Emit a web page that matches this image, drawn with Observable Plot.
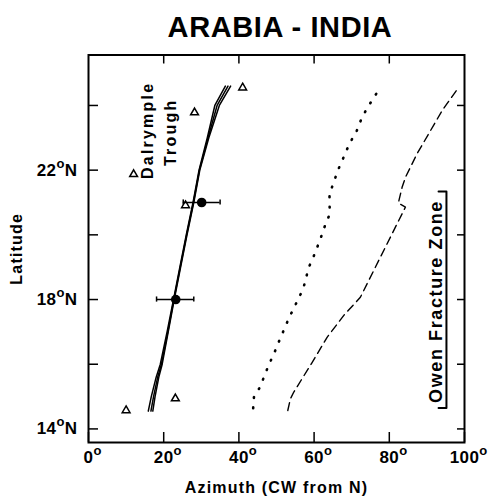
<!DOCTYPE html>
<html><head><meta charset="utf-8">
<script src="https://cdn.jsdelivr.net/npm/d3@7"></script>
<script src="https://cdn.jsdelivr.net/npm/@observablehq/plot@0.6"></script>
<style>
body{margin:0;background:#fff;}
#title{position:relative;height:40px;width:489px;font:bold 29px "Liberation Sans",Arial,sans-serif;color:#000;}
#title span{position:absolute;left:280px;top:13px;transform:translateX(-50%);line-height:1;white-space:nowrap;letter-spacing:0.6px;}
#chart svg{display:block;}
#chart svg text{font-family:"Liberation Sans",Arial,sans-serif;font-weight:bold;}
g[aria-label="x-axis tick label"] text, g[aria-label="y-axis tick label"] text{font-size:17px;letter-spacing:0.4px;}
g[aria-label="x-axis label"] text, g[aria-label="y-axis label"] text{font-size:16px;letter-spacing:1.2px;}
</style>
</head><body>
<div id="title"><span>ARABIA - INDIA</span></div>
<div id="chart"></div>
<script>
// ---- data ----
const xTicks = [0, 20, 40, 60, 80, 100];
const yTicks = [14, 16, 18, 20, 22, 24];
const yLabelTicks = [14, 18, 22];

// three nearly coincident solid model curves
const solidLat = [14.55, 15.0, 15.6, 16.0, 17.0, 18.0, 19.0, 20.0, 21.0, 22.0, 23.0, 24.0, 24.6];
const solidAz1 = [15.9, 16.7, 18.0, 19.1, 20.9, 22.6, 24.3, 26.0, 27.8, 29.4, 31.6, 33.6, 36.4];
const solidAz2 = [16.6, 17.3, 18.4, 19.4, 21.1, 22.7, 24.4, 26.1, 27.9, 29.5, 31.8, 34.2, 37.1];
const solidAz3 = [17.1, 17.7, 18.7, 19.6, 21.2, 22.8, 24.5, 26.2, 28.0, 29.6, 32.0, 34.8, 37.8];

// dotted curve
const dotAz  = [43.8, 44.0, 45.7, 46.8, 48.0, 49.3, 50.5, 53.2, 57.1, 58.6, 59.8, 61.0, 62.0, 63.0, 64.2, 64.1, 64.1, 65.1, 66.3, 67.5, 68.6, 69.9, 71.4, 72.6, 74.0, 75.7, 77.7];
const dotLat = [14.64, 14.98, 15.31, 15.65, 15.99, 16.32, 16.66, 17.4, 18.33, 19.0, 19.31, 19.67, 19.98, 20.32, 20.65, 20.96, 21.27, 21.58, 21.99, 22.3, 22.61, 22.92, 23.23, 23.59, 23.9, 24.21, 24.57];

// dashed curve
const dashAz  = [53.0, 53.7, 54.6, 59.3, 63.5, 67.9, 72.3, 77.2, 81.2, 84.3, 82.4, 83.4, 84.3, 87.4, 91.0, 94.1, 98.5];
const dashLat = [14.57, 14.93, 15.14, 16.02, 16.84, 17.51, 18.07, 19.21, 20.14, 20.86, 20.98, 21.47, 21.78, 22.51, 23.23, 23.85, 24.57];

// filled circles with azimuth error bars
const circAz  = [23.2, 30.1];
const circLat = [18.0, 21.0];
const circLo  = [18.1, 25.2];
const circHi  = [28.0, 35.0];

// open triangles
const triAz  = [41.0, 28.2, 12.0, 25.8, 10.0, 23.1];
const triLat = [24.55, 23.78, 21.87, 20.91, 14.57, 14.94];

// annotations
const dalText = ["Dalrymple", "Trough"];
const dalAz   = [15.8, 21.8];
const dalLat  = [23.23, 23.17];
const owenText = ["Owen Fracture Zone"];
const owenAz   = [92.55];
const owenLat  = [17.94];
const bracketAz  = [93.1, 95.2, 95.2, 93.1];
const bracketLat = [21.34, 21.34, 14.65, 14.65];

// ---- build tables ----
const solid = [solidAz1, solidAz2, solidAz3].flatMap((arr, k) => arr.map((az, i) => ({az, lat: solidLat[i], k})));
const dotted = dotAz.map((az, i) => ({az, lat: dotLat[i]}));
const dashed = dashAz.map((az, i) => ({az, lat: dashLat[i]}));
const circles = circAz.map((az, i) => ({az, lat: circLat[i], lo: circLo[i], hi: circHi[i]}));
const caps = circles.flatMap(d => [{az: d.lo, lat: d.lat}, {az: d.hi, lat: d.lat}]);
const tris = triAz.map((az, i) => ({az, lat: triLat[i]}));
const dal = dalText.map((t, i) => ({t, az: dalAz[i], lat: dalLat[i]}));
const owen = owenText.map((t, i) => ({t, az: owenAz[i], lat: owenLat[i]}));
const bracket = bracketAz.map((az, i) => ({az, lat: bracketLat[i]}));

const chart = Plot.plot({
  width: 489,
  height: 456,
  marginTop: 14.5,
  marginBottom: 54,
  marginLeft: 88,
  marginRight: 25,
  x: {domain: [0, 100]},
  y: {domain: [13.58, 25.56]},
  style: {background: "#fff", color: "#000"},
  marks: [
    Plot.axisX({anchor: "bottom", ticks: xTicks, tickSize: -10, tickPadding: 18, strokeWidth: 1.5,
      tickFormat: d => String(d), label: "Azimuth (CW from N)", labelAnchor: "center", labelOffset: 50, labelArrow: "none"}),
    Plot.axisX({anchor: "top", ticks: [20, 40, 60, 80], tickSize: -8, strokeWidth: 1.5, tickFormat: () => "", label: null}),
    Plot.axisY({anchor: "left", ticks: yTicks, tickSize: -10, tickPadding: 21, strokeWidth: 1.5,
      tickFormat: d => yLabelTicks.includes(d) ? String(d) : "", label: "Latitude", labelAnchor: "center", labelOffset: 78, labelArrow: "none"}),
    Plot.axisY({anchor: "right", ticks: yTicks, tickSize: -8, strokeWidth: 1.5, tickFormat: () => "", label: null}),
    Plot.frame({strokeWidth: 2}),
    Plot.line(solid, {x: "az", y: "lat", z: "k", stroke: "#000", strokeWidth: 1.5}),
    Plot.line(dotted, {x: "az", y: "lat", stroke: "#000", strokeWidth: 2.6, strokeDasharray: "0.8,9.5", strokeLinecap: "round"}),
    Plot.line(dashed, {x: "az", y: "lat", stroke: "#000", strokeWidth: 1.4, strokeDasharray: "8,5"}),
    Plot.ruleY(circles, {y: "lat", x1: "lo", x2: "hi", stroke: "#000", strokeWidth: 1.5}),
    Plot.ruleX(caps, {x: "az", y1: d => d.lat - 0.08, y2: d => d.lat + 0.08, stroke: "#000", strokeWidth: 1.5}),
    Plot.dot(circles, {x: "az", y: "lat", r: 4.8, fill: "#000", stroke: "none"}),
    Plot.dot(tris, {x: "az", y: "lat", symbol: "triangle", r: 2.9, stroke: "#000", strokeWidth: 1.5, fill: "none"}),
    Plot.text(dal, {x: "az", y: "lat", text: "t", rotate: -90, fontSize: 16, fontWeight: "bold", fill: "#000"}),
    Plot.text(owen, {x: "az", y: "lat", text: "t", rotate: -90, fontSize: 18, fontWeight: "bold", fill: "#000"}),
    Plot.line(bracket, {x: "az", y: "lat", stroke: "#000", strokeWidth: 2})
  ]
});
document.getElementById("chart").appendChild(chart);

// letter spacing of the rotated annotations (wide, as in the original lettering)
chart.querySelectorAll("text").forEach(t => {
  const s = t.textContent;
  if (dalText.includes(s)) t.style.letterSpacing = "2.2px";
  if (owenText.includes(s)) t.style.letterSpacing = "1.6px";
});

// render degree signs as raised small "o" like the original
const NS = "http://www.w3.org/2000/svg";
function sup(t, rest) {
  const s = document.createElementNS(NS, "tspan");
  s.setAttribute("dy", "-8");
  s.setAttribute("font-size", "13");
  s.textContent = "o";
  t.appendChild(s);
  if (rest) {
    const r = document.createElementNS(NS, "tspan");
    r.setAttribute("dy", "8");
    r.textContent = rest;
    t.appendChild(r);
  }
}
chart.querySelectorAll('g[aria-label="x-axis tick label"] text').forEach(t => {
  const s = t.textContent;
  if (!s) return;
  const w = t.getComputedTextLength();
  t.setAttribute("text-anchor", "start");
  t.setAttribute("dx", String(-w / 2));
  sup(t, null);
});
chart.querySelectorAll('g[aria-label="y-axis tick label"] text').forEach(t => {
  const s = t.textContent;
  if (!s) return;
  sup(t, "N");
});
</script>
</body></html>
